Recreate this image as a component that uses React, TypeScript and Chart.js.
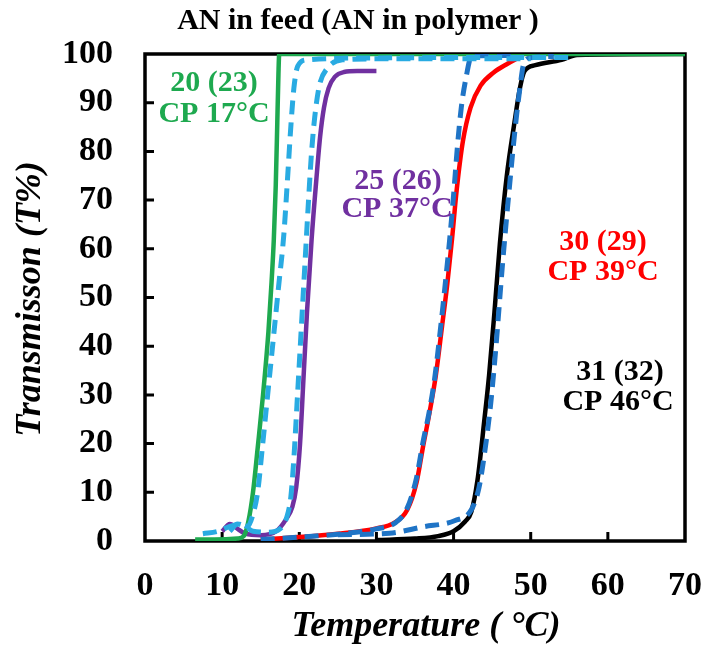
import React, { useEffect, useRef } from "react";
import { Chart, registerables } from "chart.js";

Chart.register(...registerables);

const FONT = "'Liberation Serif', 'Times New Roman', serif";

// Axis ticks
const X_TICKS = [0, 10, 20, 30, 40, 50, 60, 70];
const Y_TICKS = [0, 10, 20, 30, 40, 50, 60, 70, 80, 90, 100];

// 20 (23) — solid green
const green20T = [6.5, 9, 12, 12.8, 13.4, 14, 14.6, 15.3, 16, 16.4, 16.7, 16.95, 17.15, 17.3, 17.4, 30, 50, 70];
const green20V = [0.3, 0.3, 0.5, 1, 4, 10, 19, 30, 43, 53, 62, 73, 86, 96, 100, 100, 100, 100];

// 20 (23) — dashed light blue
const light20T = [7.5, 9.5, 11, 12.5, 13.3, 14, 14.6, 15.2, 15.9, 16.6, 17.3, 18, 18.5, 18.9, 19.3, 19.8, 21, 30, 45, 55];
const light20V = [1.5, 2, 3, 3.5, 3, 5.5, 10, 19, 30, 41, 52, 63, 75, 85, 93, 97.5, 98.8, 99.2, 99.3, 99.3];

// 25 (26) — solid purple
const purple25T = [10, 11, 12, 13, 15, 17, 18.3, 19.1, 19.6, 20.1, 20.5, 21, 21.6, 22.2, 22.7, 23.2, 23.8, 24.6, 25.8, 27.5, 30];
const purple25V = [2, 3.5, 2.5, 1.5, 1.2, 2, 4.5, 7, 11, 20, 32, 47, 62, 74, 83, 89, 93, 95.3, 96.3, 96.5, 96.5];

// 25 (26) — dashed light blue
const light25T = [11, 12, 13, 14, 16, 17.5, 18.4, 18.9, 19.3, 19.7, 20.2, 20.7, 21.2, 21.6, 22, 22.6, 23.6, 25.6, 30, 40, 50];
const light25V = [2, 3.5, 3, 2, 1.8, 2.5, 5, 9, 17, 28, 42, 56, 70, 80, 87, 93.5, 97, 98.8, 99, 99, 99];

// 30 (29) — solid red
const red30T = [15, 20, 25, 30, 32.3, 34, 35.2, 36, 36.9, 37.7, 38.5, 39.2, 39.8, 40.4, 41.2, 42.2, 43.5, 45.2, 47, 48.4];
const red30V = [0.3, 0.8, 1.5, 2.6, 3.7, 6.4, 12, 19, 26.5, 34, 44, 53, 62, 72, 82, 89, 93.5, 96.2, 98, 99.2];

// 30 (29) — dashed blue
const blue30T = [15, 20, 25, 30, 32.5, 34, 35.2, 36, 36.9, 37.6, 38.4, 39, 39.5, 40, 40.5, 41, 41.6, 42.3, 45, 48];
const blue30V = [0.3, 0.8, 1.4, 2.5, 3.8, 6.8, 13, 20, 27, 34, 45, 54, 62, 71, 81, 89, 95, 99.4, 99.7, 99.7];

// 31 (32) — solid black
const black31T = [30, 35, 38, 40, 41.5, 42.3, 43.1, 44, 44.6, 45.3, 46, 46.9, 47.9, 48.6, 49.2, 50.6, 54, 56, 70];
const black31V = [0.2, 0.5, 1, 2, 4, 6, 12.5, 25, 34, 47, 61, 75, 86, 93, 96.5, 97.7, 98.8, 99.8, 100];

// 31 (32) — dashed blue
const blue31T = [25, 31.7, 36, 40.2, 42.3, 43.3, 44.1, 44.8, 45.5, 46.3, 47.2, 48, 48.6, 49.1, 50, 53];
const blue31V = [1.3, 1.6, 2.9, 4.2, 6.4, 11, 19, 28, 40, 56, 72, 85, 93, 98, 99.2, 99.5];

const GREEN = "#1ea94f";
const PURPLE = "#7030a0";
const RED = "#ff0000";
const BLACK = "#000000";
const LIGHTBLUE = "#29abe2";
const BLUE = "#1f74c6";

const pts = (t: number[], v: number[]) => t.map((x, i) => ({ x, y: v[i] }));

const solid = (label: string, t: number[], v: number[], color: string, order: number) => ({
  label,
  data: pts(t, v),
  borderColor: color,
  backgroundColor: color,
  borderWidth: 4.5,
  pointRadius: 0,
  cubicInterpolationMode: "monotone" as const,
  fill: false,
  order,
});

const dashed = (label: string, t: number[], v: number[], color: string, order: number) => ({
  label,
  data: pts(t, v),
  borderColor: color,
  backgroundColor: color,
  borderWidth: 5,
  borderDash: [14, 8],
  pointRadius: 0,
  cubicInterpolationMode: "monotone" as const,
  fill: false,
  order,
});

const texts = [
  { s: "AN in feed (AN in polymer )", x: 358, y: 21, c: BLACK, f: `bold 30px ${FONT}` },
  { s: "20 (23)", x: 214, y: 83, c: GREEN, f: `bold 30px ${FONT}` },
  { s: "CP 17°C", x: 214, y: 114, c: GREEN, f: `bold 30px ${FONT}` },
  { s: "25 (26)", x: 398, y: 181, c: PURPLE, f: `bold 30px ${FONT}` },
  { s: "CP 37°C", x: 397, y: 209, c: PURPLE, f: `bold 30px ${FONT}` },
  { s: "30 (29)", x: 603, y: 242, c: RED, f: `bold 30px ${FONT}` },
  { s: "CP 39°C", x: 603, y: 272, c: RED, f: `bold 30px ${FONT}` },
  { s: "31 (32)", x: 620, y: 372, c: BLACK, f: `bold 30px ${FONT}` },
  { s: "CP 46°C", x: 618, y: 402, c: BLACK, f: `bold 30px ${FONT}` },
  { s: "Temperature ( °C)", x: 426, y: 627, c: BLACK, f: `italic bold 36px ${FONT}` },
];

const decorPlugin = {
  id: "decor",
  beforeDatasetsDraw(chart: any) {
    const { ctx, chartArea: a, scales } = chart;
    ctx.save();
    ctx.strokeStyle = "#000";
    ctx.lineWidth = 3.5;
    ctx.strokeRect(a.left, a.top, a.right - a.left, a.bottom - a.top);
    ctx.lineWidth = 3;
    ctx.beginPath();
    for (const v of Y_TICKS) {
      if (v === Y_TICKS[0] || v === Y_TICKS[Y_TICKS.length - 1]) continue;
      const y = scales.y.getPixelForValue(v);
      ctx.moveTo(a.left, y);
      ctx.lineTo(a.left + 9, y);
    }
    for (const v of X_TICKS) {
      if (v === X_TICKS[0] || v === X_TICKS[X_TICKS.length - 1]) continue;
      const x = scales.x.getPixelForValue(v);
      ctx.moveTo(x, a.bottom);
      ctx.lineTo(x, a.bottom - 9);
    }
    ctx.stroke();
    ctx.restore();
  },
  afterDraw(chart: any) {
    const { ctx } = chart;
    ctx.save();
    ctx.textAlign = "center";
    ctx.textBaseline = "middle";
    for (const t of texts) {
      ctx.font = t.f;
      ctx.fillStyle = t.c;
      ctx.fillText(t.s, t.x, t.y);
    }
    ctx.translate(31, 299);
    ctx.rotate(-Math.PI / 2);
    ctx.font = `italic bold 36px ${FONT}`;
    ctx.fillStyle = BLACK;
    ctx.fillText("Transmisson (T%)", 0, 0);
    ctx.restore();
  },
};

export default function App() {
  const ref = useRef<HTMLCanvasElement | null>(null);

  useEffect(() => {
    if (!ref.current) return;
    const chart = new Chart(ref.current, {
      type: "line",
      data: {
        datasets: [
          dashed("20 (23) dashed", light20T, light20V, LIGHTBLUE, 0),
          dashed("25 (26) dashed", light25T, light25V, LIGHTBLUE, 0),
          dashed("30 (29) dashed", blue30T, blue30V, BLUE, 0),
          dashed("31 (32) dashed", blue31T, blue31V, BLUE, 0),
          solid("20 (23)", green20T, green20V, GREEN, 1),
          solid("25 (26)", purple25T, purple25V, PURPLE, 2),
          solid("30 (29)", red30T, red30V, RED, 3),
          solid("31 (32)", black31T, black31V, BLACK, 4),
        ],
      },
      options: {
        responsive: false,
        animation: false,
        events: [],
        layout: { padding: { left: 0, top: 54, right: 22, bottom: 0 } },
        plugins: {
          legend: { display: false },
          tooltip: { enabled: false },
          title: { display: false },
        },
        scales: {
          x: {
            type: "linear",
            min: X_TICKS[0],
            max: X_TICKS[X_TICKS.length - 1],
            afterBuildTicks: (s: any) => {
              s.ticks = X_TICKS.map((v) => ({ value: v }));
            },
            afterFit: (s: any) => {
              s.height = 116;
            },
            grid: { display: false, drawTicks: false },
            border: { display: false },
            ticks: {
              color: "#000",
              padding: 25,
              font: { family: FONT, size: 34, weight: "bold" },
              maxRotation: 0,
            },
          },
          y: {
            type: "linear",
            min: Y_TICKS[0],
            max: Y_TICKS[Y_TICKS.length - 1],
            afterBuildTicks: (s: any) => {
              s.ticks = Y_TICKS.map((v) => ({ value: v }));
            },
            afterFit: (s: any) => {
              s.width = 145;
            },
            grid: { display: false, drawTicks: false },
            border: { display: false },
            ticks: {
              color: "#000",
              padding: 32,
              font: { family: FONT, size: 34, weight: "bold" },
            },
          },
        },
      },
      plugins: [decorPlugin],
    });
    return () => chart.destroy();
  }, []);

  return (
    <div style={{ position: "fixed", left: 0, top: 0, width: 727, height: 657, background: "#fff" }}>
      <canvas ref={ref} width={727} height={657} style={{ width: 727, height: 657, display: "block" }} />
    </div>
  );
}
